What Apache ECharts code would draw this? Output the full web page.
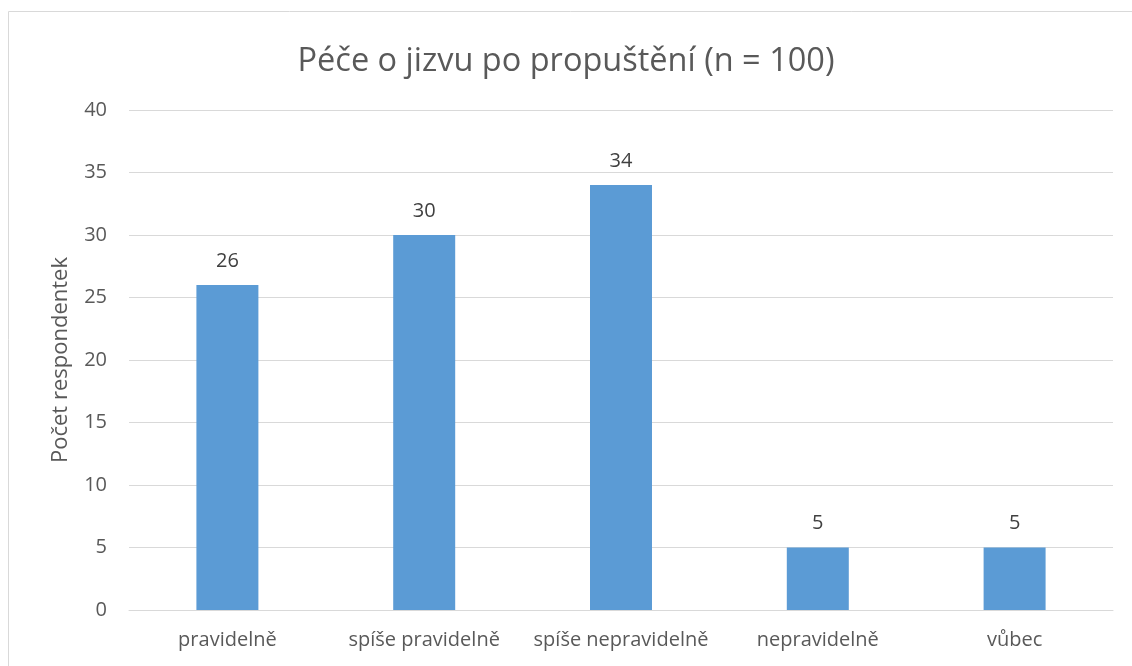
<!DOCTYPE html>
<html>
<head>
<meta charset="utf-8">
<style>
  html, body { margin: 0; padding: 0; background: #fff; }
  #chart { width: 1132px; height: 666px; }
</style>
<script src="https://cdn.jsdelivr.net/npm/echarts@6/dist/echarts.min.js"></script>
</head>
<body>
<div id="chart"></div>
<script>
const categories = ['pravidelně', 'spíše pravidelně', 'spíše nepravidelně', 'nepravidelně', 'vůbec'];
const counts = [26, 30, 34, 5, 5];

const textColor = '#595959';
const font = '"Open Sans", "Noto Sans", sans-serif';

let myChart = echarts.init(document.getElementById('chart'));

let option = {
  textStyle: { fontFamily: font },
  title: {
    text: 'Péče o jizvu po propuštění (n = 100)',
    left: 'center',
    top: 40,
    textStyle: {
      color: textColor,
      fontSize: 32.5,
      fontWeight: 'normal',
      fontFamily: font,
    },
  },
  graphic: [
    {
      type: 'rect',
      shape: { x: 8.5, y: 11.5, width: 1140, height: 680 },
      style: { fill: 'none', stroke: '#d9d9d9', lineWidth: 1 },
      silent: true,
    },
  ],
  grid: {
    left: 129,
    right: 19,
    top: 110,
    bottom: 56,
  },
  xAxis: {
    type: 'category',
    data: categories,
    axisTick: { show: false },
    axisLine: { lineStyle: { color: '#d9d9d9', width: 1 } },
    axisLabel: {
      color: textColor,
      fontSize: 20,
      margin: 20,
      interval: 0,
      hideOverlap: false,
      fontFamily: font,
    },
  },
  yAxis: {
    type: 'value',
    min: 0,
    max: 40,
    interval: 5,
    name: 'Počet respondentek',
    nameLocation: 'middle',
    nameGap: 57,
    nameTextStyle: {
      color: textColor,
      fontSize: 22,
      fontFamily: font,
    },
    axisLine: { show: false },
    axisTick: { show: false },
    axisLabel: {
      color: textColor,
      fontSize: 20,
      margin: 22,
      fontFamily: font,
    },
    splitLine: { lineStyle: { color: '#d9d9d9', width: 1 } },
  },
  series: [
    {
      type: 'bar',
      data: counts,
      barWidth: '31.5%',
      itemStyle: { color: '#5b9bd5' },
      label: {
        show: true,
        position: 'top',
        distance: 14,
        color: '#404040',
        fontSize: 20,
        fontFamily: font,
      },
    },
  ],
};

myChart.setOption(option);
</script>
</body>
</html>
